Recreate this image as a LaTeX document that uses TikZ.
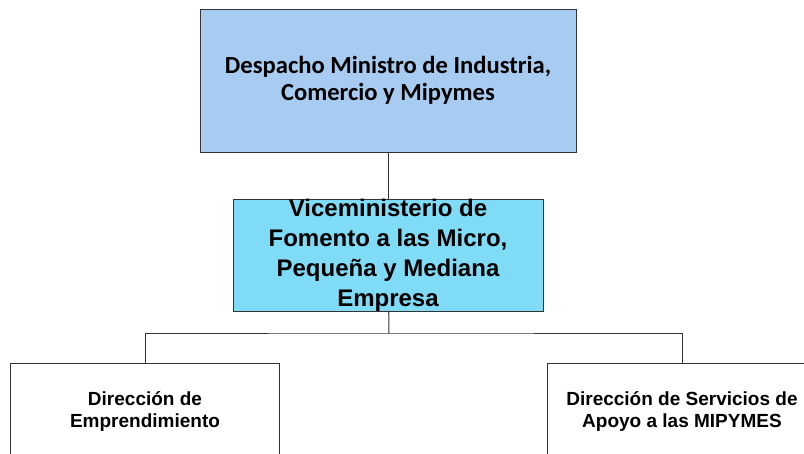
\documentclass[tikz,border=0pt]{standalone}
\usepackage{fontspec}
\setmainfont{Liberation Sans}
\newfontfamily\carlito{Carlito}
\usetikzlibrary{positioning}

\definecolor{despachoblue}{RGB}{168,204,241}
\definecolor{viceblue}{RGB}{128,220,246}

\begin{document}
\begin{tikzpicture}[
    x=1pt, y=-1pt,
    box/.style={rectangle, draw=black!80, line width=1pt, align=center, inner sep=0pt},
    despacho/.style={box, fill=despachoblue, minimum width=376pt, minimum height=143pt,
        font=\carlito\bfseries\fontsize{24.6}{26.5}\selectfont},
    vice/.style={box, fill=viceblue, minimum width=310pt, minimum height=108pt,
        font=\bfseries\fontsize{24}{30}\selectfont},
    direccion/.style={box, fill=white, minimum width=269pt, minimum height=96pt,
        font=\bfseries\fontsize{19}{22}\selectfont},
    conn/.style={draw=black!80, line width=1pt}
]
    \clip (0,0) rectangle (804,453);
    \fill[white] (0,0) rectangle (804,453);
    \node[despacho] (despacho) at (388,80.5) {Despacho Ministro de Industria,\\Comercio y Mipymes};
    \node[vice, below=46pt of despacho] (vice) {Viceministerio de\\Fomento a las Micro,\\Peque\~na y Mediana\\Empresa};
    \node[direccion] (emprend) at (145,411) {Direcci\'on de\\Emprendimiento};
    \node[direccion] (apoyo) at (682,411) {Direcci\'on de Servicios de\\Apoyo a las MIPYMES};
    \coordinate (split) at (389,333);
    \draw[conn] (despacho) -- (vice);
    \draw[conn] (vice) -- (split);
    \draw[conn] (emprend.north) |- (split) -| (apoyo.north);
\end{tikzpicture}
\end{document}
